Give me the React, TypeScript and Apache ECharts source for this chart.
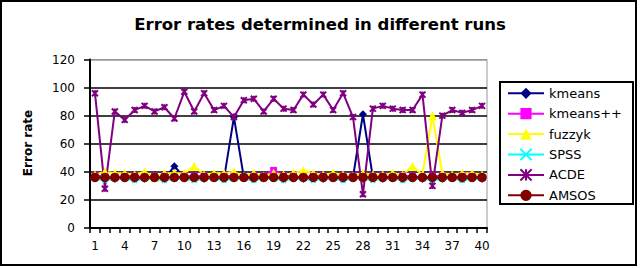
import React, { useEffect, useRef } from "react";
import * as echarts from "echarts";

const categories = Array.from({ length: 40 }, (_, i) => String(i + 1));
const yTicks = [0, 20, 40, 60, 80, 100, 120];

const kmeans = [36, 36, 35, 36, 35, 35, 36, 35, 44, 36, 36, 35, 36, 35, 79, 36, 35, 36, 36, 35, 36, 35, 36, 35, 36, 35, 36, 81, 36, 35, 36, 35, 36, 35, 36, 35, 36, 35, 36, 35];
const kmeansPP = [37, 37, 36, 37, 37, 36, 37, 37, 36, 37, 37, 37, 36, 37, 37, 36, 37, 37, 41, 37, 37, 36, 37, 37, 36, 37, 37, 36, 37, 37, 36, 37, 37, 36, 37, 37, 36, 37, 37, 36];
const fuzzyk = [38, 40, 39, 39, 38, 40, 36, 39, 39, 39, 44, 38, 39, 39, 40, 37, 39, 37, 39, 38, 39, 41, 39, 38, 39, 38, 37, 39, 38, 38, 39, 38, 44, 38, 80, 39, 38, 39, 39, 38];
const spss = [35, 34, 35, 35, 34, 35, 35, 34, 35, 35, 34, 35, 35, 34, 35, 35, 34, 35, 35, 34, 35, 35, 34, 35, 35, 34, 35, 35, 34, 35, 35, 34, 35, 35, 34, 35, 35, 34, 35, 35];
const acde = [96, 28, 83, 77, 84, 87, 83, 86, 78, 97, 83, 96, 84, 87, 79, 91, 92, 83, 92, 85, 84, 95, 88, 95, 84, 96, 79, 24, 85, 87, 85, 84, 84, 95, 30, 80, 84, 82, 84, 87];
const amsos = [36, 36, 36, 36, 36, 36, 36, 36, 36, 36, 36, 36, 36, 36, 36, 36, 36, 36, 36, 36, 36, 36, 36, 36, 36, 36, 36, 36, 36, 36, 36, 36, 36, 36, 36, 36, 36, 36, 36, 36];

const seriesNames = ["kmeans", "kmeans++", "fuzzyk", "SPSS", "ACDE", "AMSOS"];
const seriesData = [kmeans, kmeansPP, fuzzyk, spss, acde, amsos];
const seriesColors = ["#000080", "#FF00FF", "#FFFF00", "#00FFFF", "#800080", "#800000"];

const FONT = "DejaVu Sans";

export default function App() {
  const ref = useRef<HTMLDivElement>(null);
  useEffect(() => {
    if (!ref.current) return;
    const chart = echarts.init(ref.current, null, { renderer: "svg" });
    const symbols: any[] = [
      { symbol: "diamond", size: 8 },
      { symbol: "rect", size: 7 },
      { symbol: "triangle", size: 9 },
      { symbol: "path://M0,0L10,10M10,0L0,10", size: 5, stroke: true },
      { symbol: "path://M0,0L10,10M10,0L0,10M5,0L5,10", size: 6, stroke: true },
      { symbol: "circle", size: 9.5 },
    ];
    const series = seriesNames.map((name, i) => ({
      name,
      type: "line",
      data: seriesData[i],
      symbol: symbols[i].symbol,
      symbolSize: symbols[i].size,
      showAllSymbol: true,
      lineStyle: { color: seriesColors[i], width: 2 },
      itemStyle: symbols[i].stroke
        ? { color: seriesColors[i], borderColor: seriesColors[i], borderWidth: 2 }
        : { color: seriesColors[i], borderColor: seriesColors[i], borderWidth: 0 },
    }));
    chart.setOption({
      animation: false,
      backgroundColor: "#ffffff",
      title: {
        text: "Error rates determined in different runs",
        left: "center",
        top: 11,
        textStyle: { fontFamily: FONT, fontWeight: "bold", fontSize: 16.5, color: "#000" },
      },
      grid: {
        left: 90,
        top: 59.5,
        right: 153,
        bottom: 40,
        show: true,
        borderColor: "#999",
        borderWidth: 1,
        backgroundColor: "#fff",
      },
      legend: {
        data: seriesNames,
        orient: "vertical",
        left: 507,
        top: 86.3,
        padding: 0,
        itemWidth: 36,
        itemHeight: 14,
        itemGap: 6.4,
        textStyle: { fontFamily: FONT, fontSize: 13, color: "#000", lineHeight: 14 },
      },
      xAxis: {
        type: "category",
        data: categories,
        boundaryGap: true,
        axisLine: { lineStyle: { color: "#000", width: 2 } },
        axisTick: { show: true, interval: 0, length: 5, lineStyle: { color: "#000", width: 1.5 } },
        axisLabel: { interval: 2, margin: 12, fontFamily: FONT, fontSize: 12, color: "#000" },
        splitLine: { show: false },
      },
      yAxis: {
        type: "value",
        min: yTicks[0],
        max: yTicks[yTicks.length - 1],
        interval: 20,
        axisLine: { show: true, lineStyle: { color: "#000", width: 2 } },
        axisTick: { show: true, length: 6, lineStyle: { color: "#000", width: 1.5 } },
        axisLabel: { margin: 15, fontFamily: FONT, fontSize: 12, color: "#000" },
        splitLine: {
          show: true,
          lineStyle: { color: ["#000", "#000", "#000", "#000", "#000", "#000", "#999"], width: 1.5 },
        },
      },
      graphic: [
        {
          type: "rect",
          shape: { x: 1, y: 1, width: 635, height: 264 },
          style: { fill: "none", stroke: "#000", lineWidth: 2 },
          z: 100,
          silent: true,
        },
        {
          type: "rect",
          shape: { x: 500, y: 82, width: 133, height: 122 },
          style: { fill: "none", stroke: "#000", lineWidth: 2 },
          z: 100,
          silent: true,
        },
        {
          type: "text",
          x: 27.5,
          y: 143,
          rotation: Math.PI / 2,
          style: {
            text: "Error rate",
            fontFamily: FONT,
            fontWeight: "bold",
            fontSize: 12,
            fill: "#000",
            align: "center",
            verticalAlign: "middle",
          },
        },
      ],
      series,
    });
    return () => chart.dispose();
  }, []);
  return (
    <div
      ref={ref}
      style={{ position: "fixed", left: 0, top: 0, width: 640, height: 268 }}
    />
  );
}
